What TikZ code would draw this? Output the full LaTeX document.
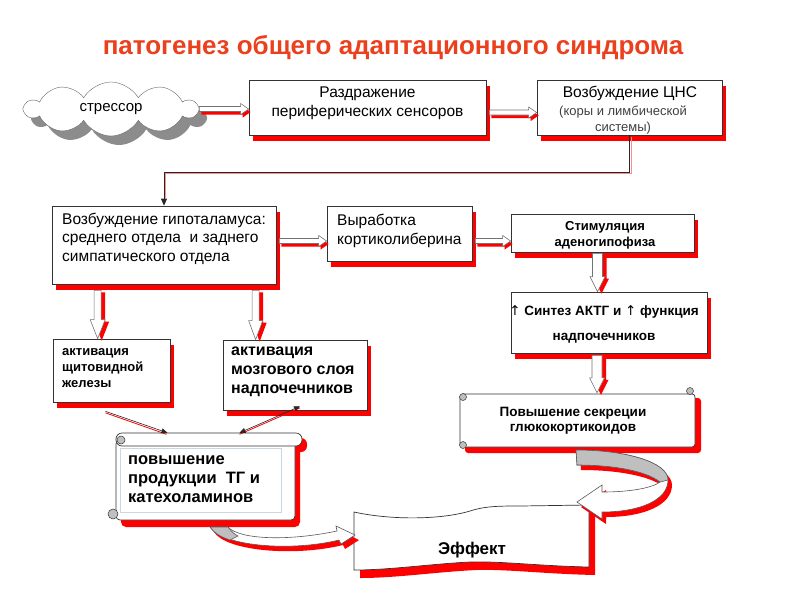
\documentclass[tikz,border=0pt]{standalone}
\usepackage{fontspec}
\setmainfont{Liberation Sans}
\newfontfamily\symfont{DejaVu Sans}
\usetikzlibrary{shapes.symbols,shadows,calc,arrows.meta}
\definecolor{titlered}{RGB}{235,64,30}
\newcommand\fsz[2]{\fontsize{#1}{#2}\selectfont}
\newcommand\hblockpath[4]{let \p1=(#1), \p2=(#2) in (\x1+#3,\y1+2.5pt+#4) -- (\x2-8pt+#3,\y1+2.5pt+#4) -- (\x2-8pt+#3,\y1+5.5pt+#4) -- (\x2+#3,\y1+#4) -- (\x2-8pt+#3,\y1-5.5pt+#4) -- (\x2-8pt+#3,\y1-2.5pt+#4) -- (\x1+#3,\y1-2.5pt+#4) -- cycle}
\newcommand\hblock[2]{\fill[red] \hblockpath{#1}{#2}{2pt}{-3pt}; \filldraw[blk] \hblockpath{#1}{#2}{0pt}{0pt};}
\newcommand\vblockpath[7]{let \p1=(#1), \p2=(#2) in (\x1-#3+#6,\y1+#7) -- (\x1+#3+#6,\y1+#7) -- (\x1+#3+#6,\y2+#5+#7) -- (\x1+#4+#6,\y2+#5+#7) -- (\x1+#6,\y2+#7) -- (\x1-#4+#6,\y2+#5+#7) -- (\x1-#3+#6,\y2+#5+#7) -- cycle}
\newcommand\vblock[5]{\fill[red] \vblockpath{#1}{#2}{#3}{#4}{#5}{4pt}{-2pt}; \filldraw[blk] \vblockpath{#1}{#2}{#3}{#4}{#5}{0pt}{0pt};}
\newcommand\effpath{(354,512) .. controls (390,520) and (440,520) .. (470,511) .. controls (485,506) and (500,506) .. (520,506) -- (589,505) -- (589,567) .. controls (540,566) and (500,561) .. (470,562) .. controls (430,564) and (390,570) .. (354,570) -- cycle}
\newcommand\rcurvepath{(576,450) .. controls (625,450) and (668,462) .. (668,480) .. controls (668,500) and (640,512) .. (602,512) -- (602,519) -- (577,502) -- (602,485) -- (602,492) .. controls (630,492) and (652,488) .. (660,482) .. controls (645,470) and (610,465) .. (577,465) -- cycle}
\newcommand\rcurvegray{(576,450) .. controls (625,450) and (668,462) .. (668,480) -- (660,482) .. controls (645,470) and (610,465) .. (577,465) -- cycle}
\newcommand\lcurvepath{(210,527) .. controls (222,546) and (290,552) .. (339,540) -- (341,544) -- (355,535) -- (336,526) -- (337,531) .. controls (290,541) and (240,540) .. (228,527) -- cycle}
\newcommand\lcurvegray{(210,527) -- (228,527) .. controls (231,531) and (234,534) .. (238,536) -- (230,540) .. controls (221,537) and (214,533) .. (210,527) -- cycle}
\begin{document}
\begin{tikzpicture}[x=1pt,y=-1pt,
 box/.style={draw=black!80, line width=0.7pt, fill=white, inner sep=0pt, drop shadow={shadow xshift=4pt,shadow yshift=-6pt,fill=red,opacity=1}},
 ghost/.style={inner sep=0pt, draw=none},
 txt/.style={inner sep=0pt, font=\fsz{15.5}{19}},
 btxt/.style={inner sep=0pt, font=\bfseries\fsz{13}{16}},
 blk/.style={fill=white, draw=black!55, line width=0.6pt},
 shape line/.style={draw=black!80, line width=0.7pt},
 conn/.style={draw=black!85, line width=0.8pt},
]
\useasboundingbox (0,0) rectangle (800,600);

\node[font=\bfseries\fsz{26}{30}, text=titlered, inner sep=0pt] (title) at (393,48) {патогенез\ общего\ адаптационного\ синдрома};

\node[cloud, cloud puffs=10, cloud puff arc=120, cloud ignores aspect, minimum width=172pt, minimum height=54pt, draw=black!60, fill=white, inner sep=0pt, font=\fsz{15}{18}, drop shadow={shadow xshift=8pt, shadow yshift=-9pt, fill=black!45, opacity=1}] (stress) at (111,109) {стрессор};

\node[box, minimum width=237pt, minimum height=55pt] (rs) at (367.5,107.5) {};
\node[box, minimum width=185pt, minimum height=55pt] (cns) at (629.5,107.5) {};
\node[box, minimum width=224pt, minimum height=78pt] (hyp) at (164,245) {};
\node[box, minimum width=145pt, minimum height=55pt] (vyr) at (399.5,233.5) {};
\node[box, minimum width=183pt, minimum height=38pt] (stim) at (602.5,233) {};
\node[box, minimum width=196pt, minimum height=61pt] (sint) at (609,322.5) {};
\node[box, minimum width=117pt, minimum height=63pt] (shch) at (111.5,370.5) {};
\node[box, minimum width=144pt, minimum height=70pt] (mozg) at (295,375) {};

\node[ghost, minimum width=237pt, minimum height=57pt] (glk) at (576.5,418.5) {};
\node[ghost, minimum width=187pt, minimum height=87pt] (tg) at (208.5,476.5) {};
\node[ghost, minimum width=236pt, minimum height=60pt] (eff) at (472,538) {};

% scroll: glucocorticoids
\fill[red, rounded corners=3pt] (465,398) rectangle (701,453);
\filldraw[fill=white, shape line, rounded corners=3pt] (460,394) rectangle (695,447);
\filldraw[fill=black!25, shape line, line width=0.5pt] (690,391) circle (3.5);
\filldraw[fill=black!25, shape line, line width=0.5pt] (463,397) circle (3.5);
\filldraw[fill=black!25, shape line, line width=0.5pt] (463,445) circle (3.5);

% scroll: TG
\fill[red, rounded corners=5pt] (121,444) rectangle (300,527);
\fill[red, rounded corners=6pt] (121,438) rectangle (307,452);
\filldraw[fill=white, shape line, rounded corners=4pt] (116,440) rectangle (295,520);
\filldraw[fill=white, shape line, rounded corners=6pt] (116,433) rectangle (302,446);
\filldraw[fill=black!25, shape line, line width=0.5pt] (121,440) circle (4);
\filldraw[fill=black!25, shape line, line width=0.5pt] (113,514) circle (5);
\draw[draw={rgb,255:red,200;green,215;blue,225}, line width=0.8pt] (120,448) rectangle (281,512);

% effect banner
\begin{scope}[shift={(6,8)}]
\fill[red] \effpath;
\end{scope}
\filldraw[fill=white, shape line] \effpath;

% curved arrows
\begin{scope}[shift={(4,5)}]
\fill[red] \rcurvepath;
\fill[red] \lcurvepath;
\end{scope}
\filldraw[fill=white, draw=black!65, line width=0.6pt] \rcurvepath;
\filldraw[fill=black!25, draw=black!65, line width=0.6pt] \rcurvegray;
\filldraw[fill=white, draw=black!65, line width=0.6pt] \lcurvepath;
\filldraw[fill=black!25, draw=black!65, line width=0.6pt] \lcurvegray;

% block arrows
\hblock{stress.east}{rs.west}
\hblock{$(rs.east)+(3,5)$}{cns.west}
\hblock{$(hyp.east)+(3,-4)$}{vyr.west}
\hblock{$(vyr.east)+(3,7.5)$}{stim.west}
\vblock{$(hyp.south west)+(46,6)$}{shch.north}{3.5pt}{7.5pt}{19pt}
\vblock{$(hyp.south west)+(204,6)$}{mozg.north}{3.5pt}{7pt}{19pt}
\vblock{$(stim.south)+(-5,1)$}{sint.north}{5pt}{7.5pt}{15pt}
\vblock{$(sint.south)+(-12,2)$}{$(glk.north)+(0,3)$}{5pt}{7.5pt}{15pt}

% thin connectors
\draw[draw=red!45, line width=0.9pt] ($(cns.south)+(1.5,1.5)$) -- ++(0,37) -| ($(hyp.north)+(1.5,-8)$);
\draw[conn, -{Triangle[length=7pt,width=6pt]}] (cns.south) -- ++(0,37) -| (hyp.north);

\draw[red, line width=0.8pt] ($(shch.south)+(-6,10.5)$) -- ($(tg.north)+(-42,1.5)$);
\draw[conn, line width=0.6pt, -{Triangle[length=6pt,width=5pt]}] ($(shch.south)+(-6,9)$) -- ($(tg.north)+(-41,0)$);
\draw[red, line width=0.8pt] ($(mozg.south)+(5,-2.5)$) -- ($(tg.north)+(31,1.5)$);
\draw[conn, line width=0.6pt, {Triangle[length=6pt,width=5pt]}-{Triangle[length=6pt,width=5pt]}] ($(mozg.south)+(5,-4)$) -- ($(tg.north)+(31,0)$);

% texts
\node[txt, align=center] (rst) at (367.5,103) {Раздражение\\периферических сенсоров};
\node[txt] (cnsa) at (630,93) {Возбуждение ЦНС};
\node[txt, font=\fsz{13}{16}, align=center, text=black!75] (cnsb) at (623,120) {(коры и лимбической\\системы)};
\node[txt, align=left, anchor=west, font=\fsz{15.5}{18.5}] (hypt) at (62,238.5) {Возбуждение гипоталамуса:\\среднего отдела \ и заднего\\симпатического отдела};
\node[txt, align=left, anchor=west] (vyrt) at (337,230.5) {Выработка\\кортиколиберина};
\node[btxt, align=center] (stimt) at (605,235.5) {Стимуляция\\аденогипофиза};
\node[btxt, align=center, font=\bfseries\fsz{13.5}{25}] (sintt) at (604,324.5) {{\symfont\mdseries ↑} Синтез АКТГ и {\symfont\mdseries ↑} функция\\надпочечников};
\node[btxt, align=center, font=\bfseries\fsz{13.5}{15}] (glkt) at (573,420.5) {Повышение секреции\\глюкокортикоидов};
\node[btxt, align=left, anchor=west] (shcht) at (62,368) {активация\\щитовидной\\железы};
\node[btxt, align=left, anchor=west, font=\bfseries\fsz{16}{19}] (mozgt) at (231,372) {активация\\мозгового слоя\\надпочечников};
\node[btxt, align=left, anchor=west, font=\bfseries\fsz{16.5}{19}] (tgt) at (128,479) {повышение\\продукции \ ТГ и\\катехоламинов};
\node[btxt, font=\bfseries\fsz{17}{20}] (efft) at (472,550) {Эффект};
\end{tikzpicture}
\end{document}
